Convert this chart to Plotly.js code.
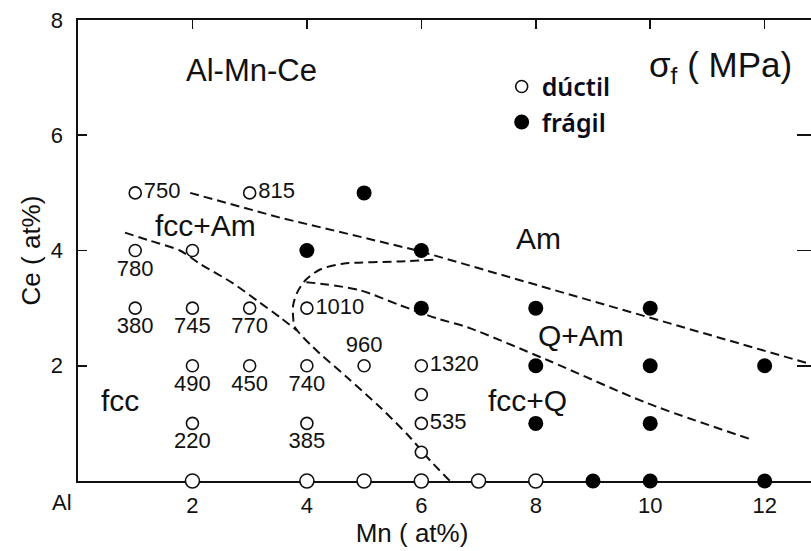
<!DOCTYPE html>
<html>
<head>
<meta charset="utf-8">
<script src="https://cdn.plot.ly/plotly-3.0.1.min.js"></script>
<style>
html,body{margin:0;padding:0;background:#fff;overflow:hidden;}
#chart{width:811px;height:551px;}
</style>
</head>
<body>
<div id="chart"></div>
<script>
// ---- data ----
// ductile (open circles) with measured fracture strength sigma_f (MPa)
const ductileMn = [1, 3, 1, 1, 2, 3, 4, 2, 3, 4, 5, 6, 2, 4, 6];
const ductileCe = [5, 5, 4, 3, 3, 3, 3, 2, 2, 2, 2, 2, 1, 1, 1];
const ductileSigma = ["750", "815", "780", "380", "745", "770", "1010", "490", "450", "740", "960", "1320", "220", "385", "535"];
const ductileLabelSide = ["middle right", "middle right", "bottom center", "bottom center", "bottom center", "bottom center", "middle right", "bottom center", "bottom center", "bottom center", "top center", "middle right", "bottom center", "bottom center", "middle right"];
// ductile alloys without a strength value
const ductileNoValMn = [2, 6, 6];
const ductileNoValCe = [4, 1.5, 0.5];
// ductile binary Al-Mn alloys (Ce = 0)
const ductileBinMn = [2, 4, 5, 6, 7, 8];
const ductileBinCe = [0, 0, 0, 0, 0, 0];
// fragile (filled circles)
const fragileMn = [5, 4, 6, 6, 8, 10, 8, 10, 12, 8, 10, 9, 10, 12];
const fragileCe = [5, 4, 4, 3, 3, 3, 2, 2, 2, 1, 1, 0, 0, 0];
// phase boundaries (dashed)
const bndAmMn = [1.96, 3.53, 5.93, 12.8];
const bndAmCe = [5.00, 4.57, 4.00, 2.03];
const bndLoopMn = [6.21, 5.63, 4.63, 4.23, 3.97, 3.83, 3.76, 3.76, 3.79, 4.11, 4.70, 5.28, 5.80, 6.15, 6.50];
const bndLoopCe = [3.84, 3.81, 3.77, 3.67, 3.48, 3.27, 3.05, 2.84, 2.67, 2.32, 1.80, 1.28, 0.76, 0.36, 0.00];
const bndFccMn = [0.82, 1.26, 1.78, 2.13, 2.71, 3.13, 3.53, 3.83];
const bndFccCe = [4.31, 4.17, 4.00, 3.77, 3.43, 3.13, 2.84, 2.61];
const bndQMn = [3.99, 4.35, 4.93, 5.63, 6.28, 6.80, 8.20, 9.95, 11.80];
const bndQCe = [3.45, 3.41, 3.31, 3.05, 2.82, 2.67, 2.10, 1.35, 0.71];
const xTickVals = [2, 4, 6, 8, 10, 12];
const xTickText = ["2", "4", "6", "8", "10", "12"];
const yTickVals = [2, 4, 6, 8];
const yTickText = ["2", "4", "6", "8"];
const regionLabels = ["fcc+Am", "Am", "Q+Am", "fcc+Q", "fcc"];
const regionMn = [2.22, 8.04, 8.79, 7.85, 0.73];
const regionCe = [4.43, 4.21, 2.53, 1.40, 1.40];

// ---- style ----
const FONT = "Liberation Sans, Arial, Helvetica, sans-serif";
const dashStyle = {color: "#111", width: 2, dash: "9px,5px"};
function boundary(x, y, shape) {
  return {x: x, y: y, type: "scatter", mode: "lines", line: Object.assign({shape: shape || "linear", smoothing: 0.8}, dashStyle),
          showlegend: false, hoverinfo: "skip", cliponaxis: false};
}
const openMarker = {symbol: "circle", size: 12, color: "#fff", line: {color: "#111", width: 1.6}};

const traces = [
  boundary(bndAmMn, bndAmCe),
  boundary(bndLoopMn, bndLoopCe, "spline"),
  boundary(bndFccMn, bndFccCe, "spline"),
  boundary(bndQMn, bndQCe, "spline"),
  {
    x: ductileBinMn, y: ductileBinCe, type: "scatter", mode: "markers",
    marker: {symbol: "circle", size: 14, color: "#fff", line: {color: "#111", width: 1.6}},
    showlegend: false, cliponaxis: false
  },
  {
    x: ductileNoValMn, y: ductileNoValCe, type: "scatter", mode: "markers",
    marker: openMarker, showlegend: false, cliponaxis: false
  },
  {
    name: "dúctil", x: ductileMn, y: ductileCe, type: "scatter", mode: "markers+text",
    text: ductileSigma, textposition: ductileLabelSide,
    textfont: {family: FONT, size: 22, color: "#111"},
    marker: openMarker,
    cliponaxis: false
  },
  {
    name: "frágil", x: fragileMn, y: fragileCe, type: "scatter", mode: "markers",
    marker: {symbol: "circle", size: 15, color: "#000"},
    cliponaxis: false
  },
  // overlay trace for top / right mirrored ticks
  {x: [0], y: [0], xaxis: "x2", yaxis: "y2", type: "scatter", mode: "markers",
   marker: {opacity: 0}, showlegend: false, hoverinfo: "skip"}
];

const annotations = [
  {text: "Al-Mn-Ce", x: 3.04, y: 7.12, xref: "x", yref: "y", showarrow: false, font: {family: FONT, size: 31, color: "#111"}},
  {text: "σ<sub>f</sub> ( MPa)", x: 11.22, y: 7.19, xref: "x", yref: "y", showarrow: false, font: {family: FONT, size: 35, color: "#111"}},
  {text: "Al", x: 0, y: 0, xref: "x", yref: "y", xshift: -16, yshift: -21, showarrow: false, font: {family: FONT, size: 22, color: "#111"}}
];
for (let i = 0; i < regionLabels.length; i++) {
  annotations.push({text: regionLabels[i], x: regionMn[i], y: regionCe[i], xref: "x", yref: "y", showarrow: false,
                    font: {family: FONT, size: 30, color: "#111"}});
}

const layout = {
  width: 811, height: 551,
  margin: {l: 78, r: 0, t: 20, b: 70},
  paper_bgcolor: "#fff", plot_bgcolor: "#fff",
  showlegend: true,
  legend: {x: 0.578, y: 0.905, xanchor: "left", yanchor: "top", bgcolor: "rgba(0,0,0,0)",
           font: {family: "Noto Sans, sans-serif", size: 25, color: "#0b0b1e", weight: 600},
           itemsizing: "trace", tracegroupgap: 0},
  xaxis: {range: [0, 12.81], showgrid: false, zeroline: false, showline: true, linecolor: "#111", linewidth: 1.6,
          mirror: true, ticks: "", tickvals: xTickVals, ticktext: xTickText, ticklabelstandoff: 4,
          tickfont: {family: FONT, size: 22, color: "#111"}, layer: "below traces",
          title: {text: "Mn ( at%)<span style='fill:rgba(0,0,0,0)'>MMM</span>", font: {family: FONT, size: 26, color: "#111"}, standoff: 6}},
  yaxis: {range: [0, 8], showgrid: false, zeroline: false, showline: true, linecolor: "#111", linewidth: 1.6,
          ticks: "inside", ticklen: 9, tickwidth: 1.6, tickcolor: "#111", tickvals: yTickVals, ticktext: yTickText,
          ticklabelstandoff: 9, tickfont: {family: FONT, size: 22, color: "#111"}, layer: "below traces",
          title: {text: "Ce ( at%)", font: {family: FONT, size: 26, color: "#111"}, standoff: 2}},
  xaxis2: {overlaying: "x", side: "top", range: [0, 12.81], showgrid: false, zeroline: false, showline: false,
           ticks: "inside", ticklen: 9, tickwidth: 1.6, tickcolor: "#111", tickvals: xTickVals, showticklabels: false},
  yaxis2: {overlaying: "y", side: "right", range: [0, 8], showgrid: false, zeroline: false, showline: false,
           ticks: "inside", ticklen: 14, tickwidth: 1.6, tickcolor: "#111", tickvals: yTickVals, showticklabels: false},
  annotations: annotations
};

Plotly.newPlot("chart", traces, layout, {displayModeBar: false, staticPlot: true});
</script>
</body>
</html>
